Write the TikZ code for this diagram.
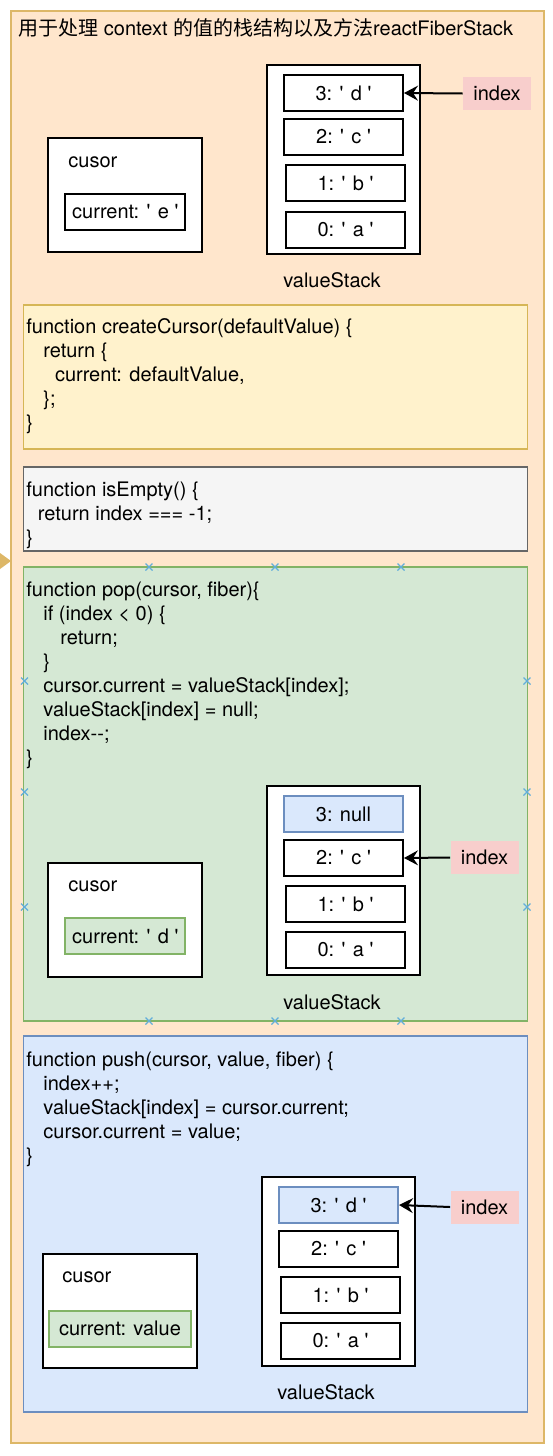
\documentclass[tikz,border=0pt]{standalone}
\usepackage{fontspec}
\newfontfamily\uifont{TeX Gyre Heros}
\newfontfamily\cjkfont{Noto Sans CJK SC}
\usetikzlibrary{arrows.meta}

\definecolor{framefill}{HTML}{FFE6CC}
\definecolor{framegold}{HTML}{DDB767}
\definecolor{yellowfill}{HTML}{FFF2CC}
\definecolor{yellowline}{HTML}{D6B656}
\definecolor{grayfill}{HTML}{F5F5F5}
\definecolor{grayline}{HTML}{666666}
\definecolor{greenfill}{HTML}{D5E8D4}
\definecolor{greenline}{HTML}{82B366}
\definecolor{bluefill}{HTML}{DAE8FC}
\definecolor{blueline}{HTML}{6C8EBF}
\definecolor{idxpink}{HTML}{F8CECC}
\definecolor{handleblue}{HTML}{62AEDB}

\tikzset{
  cell/.style={draw,fill=white,line width=1pt,minimum width=59.5pt,minimum height=18pt,inner sep=0pt},
  newcell/.style={cell,fill=bluefill,draw=blueline},
  stackbox/.style={draw,fill=white,line width=1pt,minimum width=76.5pt,minimum height=94.5pt},
  cursorbox/.style={draw,fill=white,line width=1pt,minimum width=77pt,minimum height=57pt},
  curcell/.style={draw,line width=1pt,minimum width=60pt,minimum height=18pt,inner sep=0pt},
  idx/.style={fill=idxpink,minimum width=34pt,minimum height=16.5pt,inner sep=0pt},
  codebox/.style={line width=0.8pt,minimum width=252pt,inner sep=0pt},
  code/.style={anchor=north west,align=left,inner sep=0pt},
  handle/.style={draw=handleblue,line width=0.6pt}
}

\begin{document}
\begin{tikzpicture}[x=0.5pt,y=-0.5pt,>={Stealth[length=7pt,width=7.5pt,inset=2.5pt]},
    font=\uifont\fontsize{10pt}{12pt}\selectfont]
  \useasboundingbox (0,0) rectangle (552,1456);
  \fill[white] (0,0) rectangle (552,1456);
  \draw[framegold,fill=framefill,line width=1pt] (11,11) rectangle (544,1443);
  \fill[framegold] (0,553) -- (11,561) -- (0,569) -- cycle;
  \node[anchor=west,inner sep=0pt] (title) at (18,28)
    {{\cjkfont 用于处理} context {\cjkfont 的值的栈结构以及方法}reactFiberStack};

  \node[cursorbox] (cursorA) at (125,195) {};
  \node[anchor=west,inner sep=0pt] (cursorAlbl) at (68,162) {cusor};
  \node[curcell] (currentA) at (125.3,211.5) {current: ' e '};
  \node[stackbox] (stackA) at (343.5,159.5) {};
  \node[cell] (a3) at (343.5,93) {3: ' d '};
  \node[cell] (a2) at (343.5,137) {2: ' c '};
  \node[cell] (a1) at (345.5,183) {1: ' b '};
  \node[cell] (a0) at (345.5,229.5) {0: ' a '};
  \node[idx] (idxA) at (497,93.5) {index};
  \draw[->,line width=1pt] (idxA.west) -- (a3.east);
  \node (stackAlbl) at (332,280) {valueStack};

  \node[codebox,fill=yellowfill,draw=yellowline,minimum height=72pt] (createBox) at (275.3,377) {};
  \node[code] (createCode) at (26,318) {function createCursor(defaultValue) \{\\
    \hspace*{8.5pt}return \{\\
    \hspace*{14.3pt}current: defaultValue,\\
    \hspace*{8.5pt}\};\\
    \}};

  \node[codebox,fill=grayfill,draw=grayline,minimum height=42pt] (emptyBox) at (275.3,509) {};
  \node[code] (emptyCode) at (26,481) {function isEmpty() \{\\
    \hspace*{5.8pt}return index === -1;\\
    \}};

  \node[codebox,fill=greenfill,draw=greenline,minimum height=227pt] (popBox) at (275.3,794) {};
  \node[code] (popCode) at (26,581) {function pop(cursor, fiber)\{\\
    \hspace*{8.5pt}if (index < 0) \{\\
    \hspace*{17pt}return;\\
    \hspace*{8.5pt}\}\\
    \hspace*{8.5pt}cursor.current = valueStack[index];\\
    \hspace*{8.5pt}valueStack[index] = null;\\
    \hspace*{8.5pt}index--;\\
    \}};
  \foreach \p in {(149,567),(275,567),(401,567),(149,1021),(275,1021),(401,1021),
      (24.5,681),(24.5,792),(24.5,907),(527,681),(527,792),(527,907)}
    \draw[handle] \p ++(-3.5,-3.5) -- ++(7,7) ++(-7,0) -- ++(7,-7);

  \node[cursorbox] (cursorB) at (125,920) {};
  \node[anchor=west,inner sep=0pt] (cursorBlbl) at (68,886) {cusor};
  \node[curcell,fill=greenfill,draw=greenline] (currentB) at (125.3,936) {current: ' d '};
  \node[stackbox] (stackB) at (343.5,880.5) {};
  \node[newcell] (b3) at (343.5,814) {3: null};
  \node[cell] (b2) at (343.5,858) {2: ' c '};
  \node[cell] (b1) at (345.5,904) {1: ' b '};
  \node[cell] (b0) at (345.5,950) {0: ' a '};
  \node[idx] (idxB) at (484.5,857.5) {index};
  \draw[->,line width=1pt] (idxB.west) -- (b2.east);
  \node (stackBlbl) at (332,1002) {valueStack};

  \node[codebox,fill=bluefill,draw=blueline,minimum height=188pt] (pushBox) at (275.3,1224) {};
  \node[code] (pushCode) at (26,1051) {function push(cursor, value, fiber) \{\\
    \hspace*{8.5pt}index++;\\
    \hspace*{8.5pt}valueStack[index] = cursor.current;\\
    \hspace*{8.5pt}cursor.current = value;\\
    \}};

  \node[cursorbox] (cursorC) at (120,1310.5) {};
  \node[anchor=west,inner sep=0pt] (cursorClbl) at (62,1277) {cusor};
  \node[curcell,fill=greenfill,draw=greenline,minimum width=71pt] (currentC) at (120,1328.5) {current: value};
  \node[stackbox] (stackC) at (338.5,1271.5) {};
  \node[newcell] (c3) at (338.5,1205) {3: ' d '};
  \node[cell] (c2) at (338.5,1249) {2: ' c '};
  \node[cell] (c1) at (340.5,1295) {1: ' b '};
  \node[cell] (c0) at (340.5,1341) {0: ' a '};
  \node[idx] (idxC) at (484.5,1207) {index};
  \draw[->,line width=1pt] (idxC.west) -- (c3.east);
  \node (stackClbl) at (326,1392) {valueStack};
\end{tikzpicture}
\end{document}
